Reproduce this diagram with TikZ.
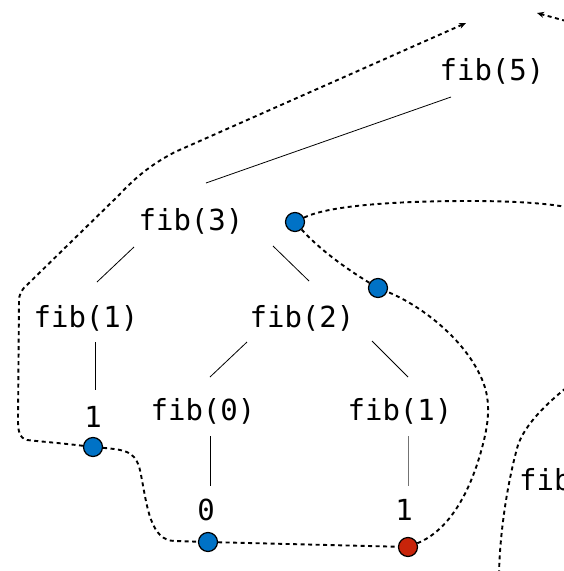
\documentclass[tikz,border=0pt]{standalone}
\usepackage{fontspec}
\newfontfamily\codefont{DejaVu Sans Mono}
\usetikzlibrary{arrows.meta}
\definecolor{callblue}{RGB}{0,114,198}
\definecolor{callred}{RGB}{200,36,10}
\tikzset{
  call/.style={font=\codefont\fontsize{29}{34}\selectfont, inner sep=0pt, anchor=base},
  edge/.style={line width=0.8pt, black},
  leafedge/.style={line width=0.8pt, black!55},
  frame/.style={circle, draw=black, line width=1.2pt, minimum size=19pt, inner sep=0pt},
  bluedot/.style={frame, fill=callblue},
  reddot/.style={frame, fill=callred},
  trace/.style={line width=1.9pt, dash pattern=on 4pt off 3.5pt},
  tip/.style={-{Stealth[length=7pt,width=6pt]}}
}
\begin{document}
\begin{tikzpicture}[x=1pt,y=-1pt]
\useasboundingbox (0,0) rectangle (564,571);

% call tree
\node[call] (f5)   at (492,80)  {fib(5)};
\node[call] (f3)   at (191,230) {fib(3)};
\node[call] (f1a)  at (86,327)  {fib(1)};
\node[call] (f2)   at (302,327) {fib(2)};
\node[call] (one1) at (93,427)  {1};
\node[call] (f0)   at (203,420) {fib(0)};
\node[call] (f1b)  at (400,420) {fib(1)};
\node[call] (zero) at (206,520) {0};
\node[call] (one2) at (404,520) {1};
\node[call] (f4)   at (519,490) [anchor=base west] {fib};

% tree edges
\draw[edge] ([shift={(-41,17)}]f5.base)  -- ([shift={(15,-47)}]f3.base);
\draw[edge] ([shift={(-57,17)}]f3.base)  -- ([shift={(11,-45)}]f1a.base);
\draw[edge] ([shift={(82,16)}]f3.base)   -- ([shift={(7,-46)}]f2.base);
\draw[edge] ([shift={(9,15)}]f1a.base)   -- ([shift={(2,-37)}]one1.base);
\draw[edge] ([shift={(-55,15)}]f2.base)  -- ([shift={(7,-43)}]f0.base);
\draw[edge] ([shift={(70,14)}]f2.base)   -- ([shift={(8,-43)}]f1b.base);
\draw[edge] ([shift={(7,16)}]f0.base)    -- ([shift={(4,-34)}]zero.base);
\draw[leafedge] ([shift={(8,16)}]f1b.base) -- ([shift={(4,-34)}]one2.base);

% evaluation points
\node[bluedot] (d1) at (295,222) {};
\node[bluedot] (d2) at (378,288) {};
\node[bluedot] (d3) at (93,447)  {};
\node[bluedot] (d4) at (208,542) {};
\node[reddot]  (d5) at (408,547) {};

% free ends of the trace
\coordinate (upA)    at (466,23);
\coordinate (inB)    at (566,21);
\coordinate (upB)    at (537,13);
\coordinate (outR)   at (566,207);
\coordinate (inR)    at (566,388);
\coordinate (downR)  at (499,573);

% trace of the evaluation
\draw[trace,tip] (d3) .. controls (60,443) and (35,441) .. (27,440)
  .. controls (19,438) and (18,430) .. (18,420) -- (19,302)
  .. controls (19,294) and (21,290) .. (28,284) -- (118,196)
  .. controls (135,178) and (150,165) .. (175,152) -- (upA);
\draw[trace] (d3) .. controls (128,450) and (137,452) .. (141,475)
  .. controls (147,505) and (150,541) .. (175,541) -- (d4);
\draw[trace] (d4) -- (d5);
\draw[trace] (d5) .. controls (450,530) and (472,490) .. (484,440)
  .. controls (490,415) and (490,395) .. (480,375)
  .. controls (462,337) and (420,305) .. (d2);
\draw[trace] (d2) .. controls (345,268) and (318,248) .. (d1);
\draw[trace] (d1) .. controls (330,205) and (400,201) .. (470,201)
  .. controls (520,201) and (550,204) .. (outR);
\draw[trace] (inR) .. controls (545,405) and (525,425) .. (518,445)
  .. controls (508,480) and (500,530) .. (downR);
\draw[trace,tip] (inB) -- (upB);
\end{tikzpicture}
\end{document}
